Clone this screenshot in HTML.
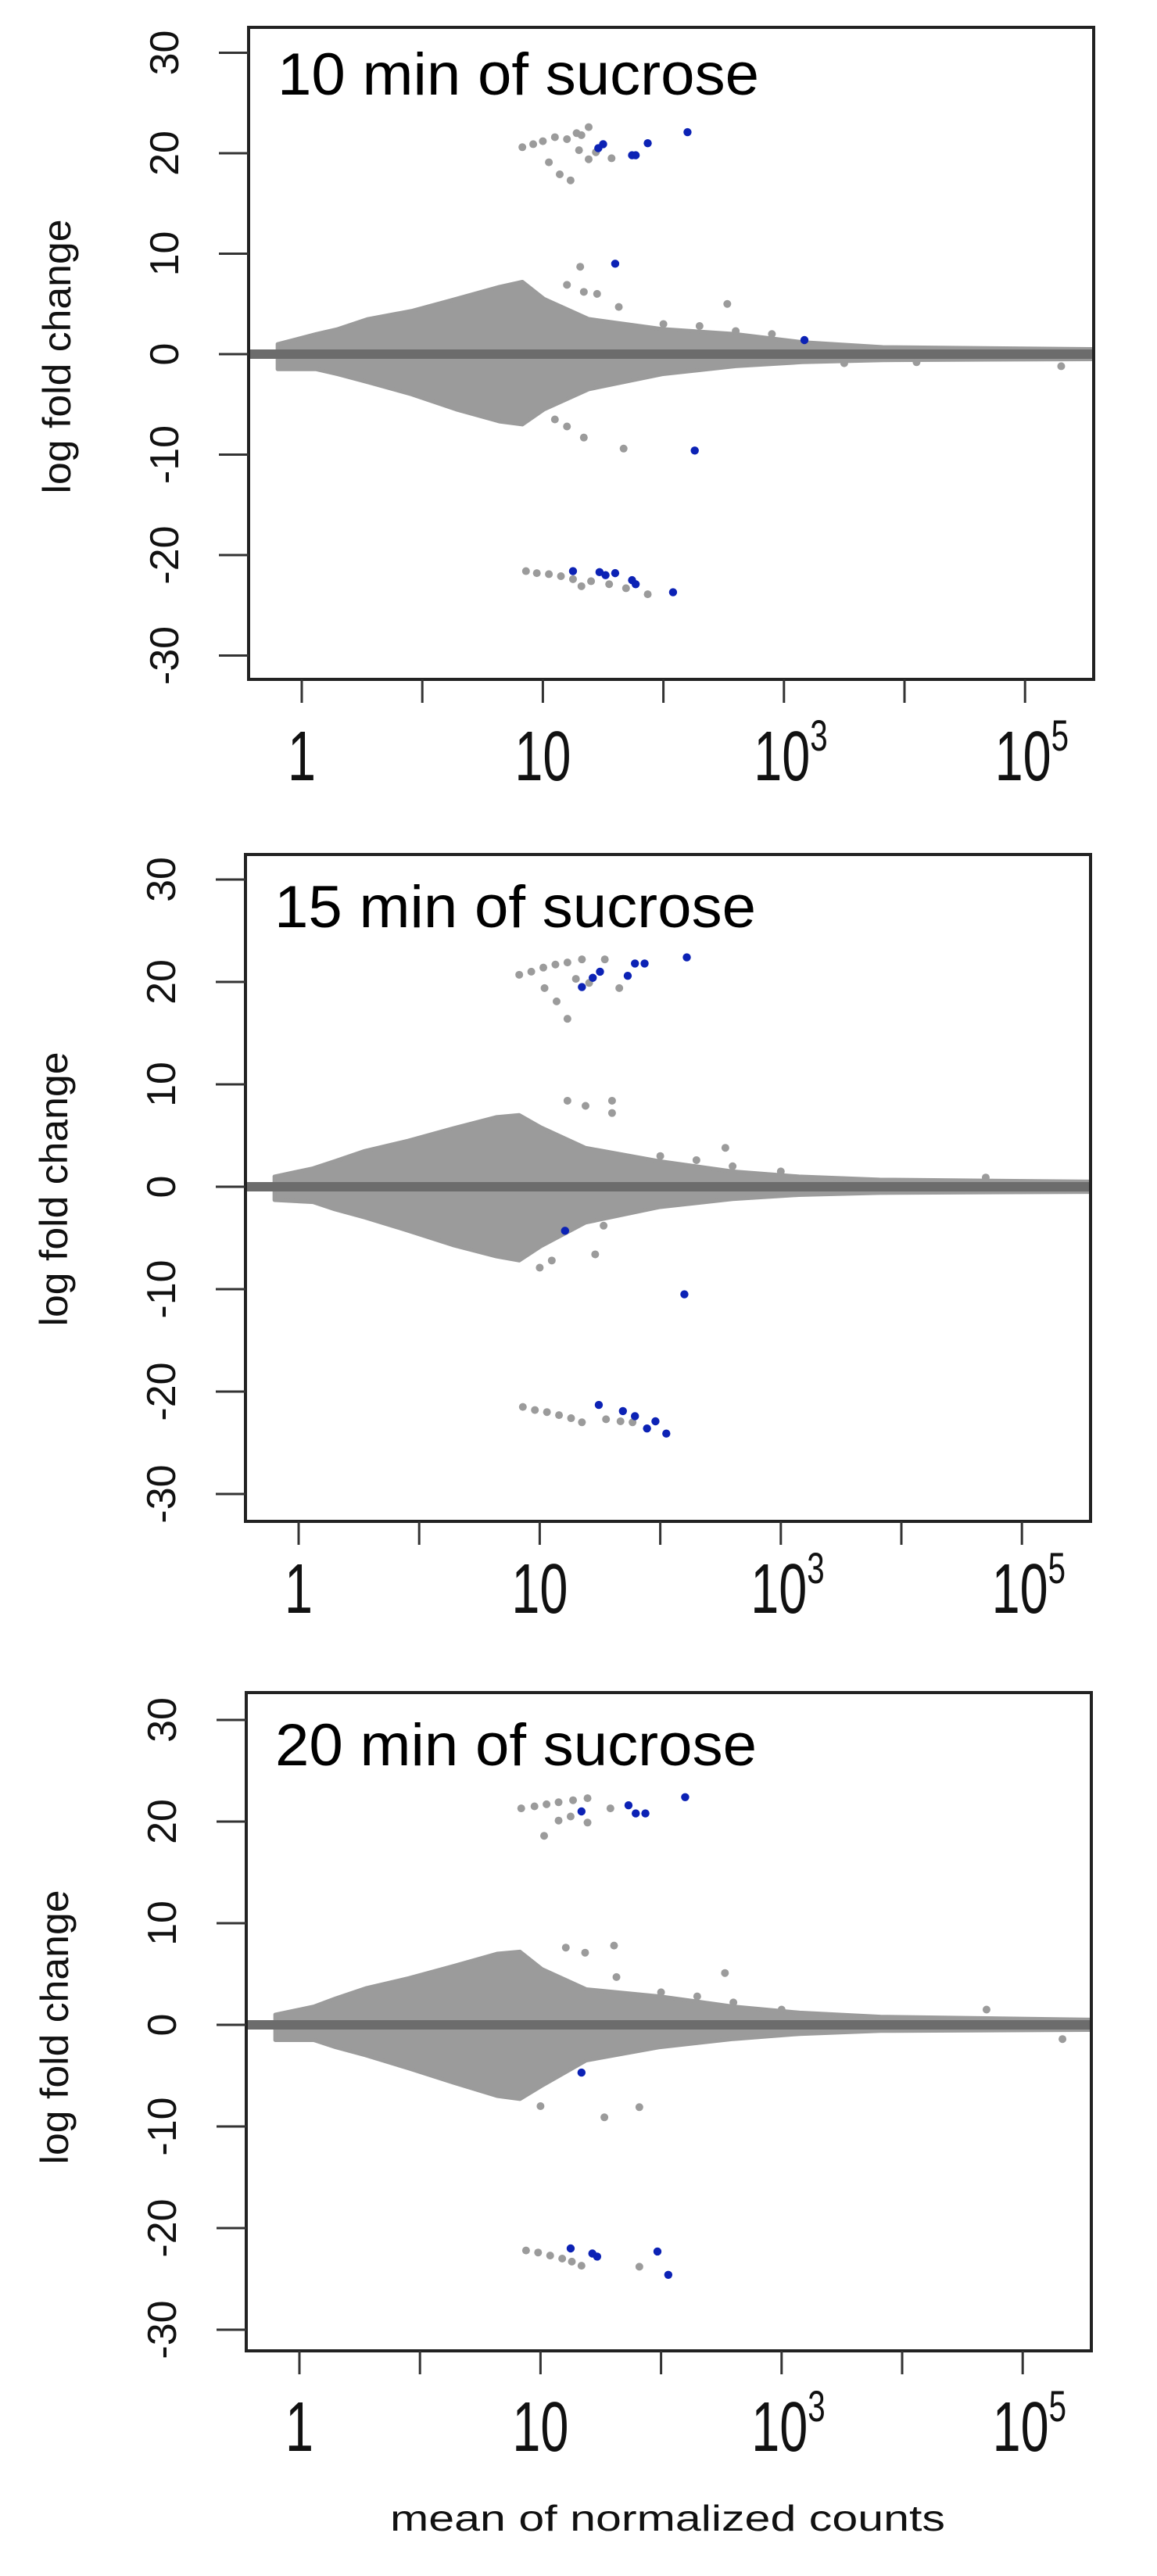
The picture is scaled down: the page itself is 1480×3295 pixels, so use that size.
<!DOCTYPE html>
<html><head><meta charset="utf-8"><title>MA plots</title>
<style>
html,body{margin:0;padding:0;background:#fff;}
svg{display:block;font-family:"Liberation Sans",Arial,sans-serif;}
</style></head>
<body>
<svg id="fig" width="1480" height="3295" viewBox="0 0 1480 3295" xmlns="http://www.w3.org/2000/svg"></svg>
<script>
// ---- data (x in axis tick units: tick 0 = "1", 2 = "10", 4 = "10^3", 6 = "10^5"; y = log fold change)
const titles = ["10 min of sucrose", "15 min of sucrose", "20 min of sucrose"];
const yTicks = [30, 20, 10, 0, -10, -20, -30];
const xTickLabels = ["1", "", "10", "", "10|3", "", "10|5"];
const envX = [-0.2, 0.12, 0.3, 0.55, 0.91, 1.28, 1.64, 1.83, 2.01, 2.38, 2.99, 3.6, 4.15, 4.82, 6.6];
const envUp1 = [1.0, 2.0, 2.5, 3.5, 4.3, 5.5, 6.7, 7.2, 5.5, 3.5, 2.5, 2.0, 1.2, 0.7, 0.5];
const envLo1 = [-1.5, -1.5, -2.0, -2.8, -4.0, -5.5, -6.7, -7.0, -5.5, -3.5, -2.0, -1.2, -0.8, -0.6, -0.5];
const envUp2 = [1.0, 1.8, 2.5, 3.5, 4.5, 5.7, 6.8, 7.0, 5.8, 3.8, 2.5, 1.5, 1.0, 0.7, 0.5];
const envLo2 = [-1.3, -1.5, -2.2, -3.0, -4.3, -5.7, -6.8, -7.2, -5.8, -3.5, -2.0, -1.2, -0.8, -0.6, -0.5];
const envUp3 = [1.0, 1.8, 2.6, 3.6, 4.6, 5.8, 7.0, 7.2, 5.5, 3.5, 2.8, 1.8, 1.2, 0.8, 0.5];
const envLo3 = [-1.5, -1.5, -2.2, -3.0, -4.3, -5.7, -7.0, -7.3, -6.0, -3.5, -2.2, -1.4, -0.9, -0.6, -0.5];
// gray outliers [x, y]
const gray1 = [[1.83,20.6],[1.92,20.9],[2.0,21.2],[2.1,21.6],[2.2,21.4],[2.28,22.0],[2.32,21.8],[2.38,22.6],[2.05,19.1],[2.14,17.9],[2.23,17.3],[2.38,19.4],[2.44,20.1],[2.57,19.5],[2.3,20.3],
  [1.86,-21.6],[1.95,-21.8],[2.05,-21.9],[2.15,-22.1],[2.25,-22.4],[2.32,-23.1],[2.4,-22.6],[2.55,-22.9],[2.69,-23.3],[2.87,-23.9],
  [2.31,8.7],[2.34,6.2],[2.63,4.7],[3.53,5.0],[2.67,-9.4],[2.34,-8.3],[2.46,-3.0],[6.3,-1.2],[2.2,6.9],[2.45,6.0],
  [3.0,3.0],[3.3,2.8],[3.6,2.3],[3.9,2.0],[2.1,-6.5],[2.2,-7.2],[4.5,-0.9],[5.1,-0.8]];
const gray2 = [[1.83,20.7],[1.93,21.0],[2.03,21.4],[2.13,21.7],[2.23,21.9],[2.35,22.2],[2.54,22.2],[2.04,19.4],[2.14,18.1],[2.23,16.4],[2.66,19.4],[2.41,19.9],[2.3,20.3],
  [1.86,-21.5],[1.96,-21.8],[2.06,-22.0],[2.16,-22.3],[2.26,-22.6],[2.35,-23.0],[2.55,-22.7],[2.67,-22.9],[2.77,-23.0],
  [2.23,8.4],[2.38,7.9],[2.6,8.4],[2.6,7.2],[3.54,3.8],[2.46,-6.6],[2.53,-3.8],[2.0,-7.9],[2.1,-7.2],
  [3.0,3.0],[3.3,2.6],[3.6,2.0],[4.0,1.5],[5.7,0.9]];
const gray3 = [[1.84,21.3],[1.95,21.5],[2.05,21.7],[2.15,21.9],[2.27,22.1],[2.39,22.3],[2.03,18.6],[2.15,20.1],[2.39,19.9],[2.58,21.3],[2.25,20.5],
  [1.88,-22.2],[1.98,-22.4],[2.08,-22.7],[2.18,-23.0],[2.26,-23.3],[2.34,-23.7],[2.82,-23.8],
  [2.21,7.6],[2.37,7.1],[2.61,7.8],[2.63,4.7],[3.53,5.1],[2.53,-9.1],[2.82,-8.1],[5.7,1.5],[6.33,-1.4],[2.0,-8.0],
  [3.0,3.2],[3.3,2.8],[3.6,2.2],[4.0,1.5]];
// significant (blue) points
const blue1 = [[2.5,20.9],[2.46,20.5],[2.74,19.8],[2.77,19.8],[2.87,21.0],[3.2,22.1],[2.6,9.0],[3.26,-9.6],[4.17,1.4],
  [2.25,-21.6],[2.47,-21.7],[2.52,-22.0],[2.6,-21.8],[2.74,-22.5],[2.77,-22.9],[3.08,-23.7]];
const blue2 = [[3.22,22.4],[2.87,21.8],[2.79,21.8],[2.73,20.6],[2.5,21.0],[2.44,20.4],[2.35,19.5],[2.21,-4.3],[3.2,-10.5],
  [2.49,-21.3],[2.69,-21.9],[2.79,-22.4],[2.89,-23.6],[2.96,-22.9],[3.05,-24.1]];
const blue3 = [[3.2,22.4],[2.34,21.0],[2.73,21.6],[2.79,20.8],[2.87,20.8],[2.34,-4.7],
  [2.25,-22.0],[2.43,-22.5],[2.47,-22.8],[2.97,-22.3],[3.06,-24.6]];

const panels = [
  {zero:453, unit:12.85, top:35, bottom:869, dx:0, env:[envUp1,envLo1], gray:gray1, blue:blue1, title:titles[0]},
  {zero:1518, unit:13.1, top:1093, bottom:1946, dx:-4, env:[envUp2,envLo2], gray:gray2, blue:blue2, title:titles[1]},
  {zero:2590, unit:13.0, top:2165, bottom:3007, dx:-3, env:[envUp3,envLo3], gray:gray3, blue:blue3, title:titles[2]}
];

const NS = "http://www.w3.org/2000/svg";
const svg = document.getElementById('fig');
function mk(tag, attrs, parent){
  const e = document.createElementNS(NS, tag);
  for (const k in attrs) e.setAttribute(k, attrs[k]);
  (parent||svg).appendChild(e);
  return e;
}

panels.forEach((p, pi) => {
  const L = 318 + p.dx, R = 1399 + p.dx;
  const xs = u => 386 + p.dx + 154.2 * u;
  const ys = v => p.zero - p.unit * v;
  const g = mk('g', {});
  
  
  const clip = mk('clipPath', {id:'clip'+pi}, g);
  mk('rect', {x:L, y:p.top, width:R-L, height:p.bottom-p.top}, clip);
  const plot = mk('g', {'clip-path':'url(#clip'+pi+')'}, g);
  
  

  let pts = [];
  envX.forEach((x,i) => pts.push(xs(x)+','+ys(p.env[0][i])));
  for (let i = envX.length-1; i >= 0; i--) pts.push(xs(envX[i])+','+ys(p.env[1][i]));
  const cloud = mk('polygon', {points:pts.join(' '), fill:'#9b9b9b', stroke:'#9b9b9b', 'stroke-width':5, 'stroke-linejoin':'round'}, plot);
  
  

  p.gray.forEach(d => {
    const c = mk('circle', {cx:xs(d[0]), cy:ys(d[1]), r:5, fill:'#9b9b9b'}, plot);
    
    
  });
  const zl = mk('line', {x1:L, x2:R, y1:ys(0), y2:ys(0), stroke:'#6c6c6c', 'stroke-width':12}, plot);
  
  
  p.blue.forEach(d => {
    const c = mk('circle', {cx:xs(d[0]), cy:ys(d[1]), r:5.2, fill:'#0c22b5'}, plot);
    
    
  });

  const box = mk('rect', {x:L, y:p.top, width:R-L, height:p.bottom-p.top, fill:'none', stroke:'#222', 'stroke-width':4}, g);
  
  

  yTicks.forEach(t => {
    const tl = mk('line', {x1:L-38, x2:L, y1:ys(t), y2:ys(t), stroke:'#333', 'stroke-width':3}, g);
    
    
    const tx = mk('text', {x:0, y:0, 'font-size':52, 'text-anchor':'middle', fill:'#111',
      transform:'translate('+(228+p.dx)+','+ys(t)+') rotate(-90)'}, g);
    tx.textContent = String(t);
    
    
  });
  xTickLabels.forEach((lab, i) => {
    const x = xs(i);
    const tl = mk('line', {x1:x, x2:x, y1:p.bottom, y2:p.bottom+30, stroke:'#333', 'stroke-width':3}, g);
    
    
    if (!lab) return;
    const parts = lab.split('|');
    const tg = mk('g', {transform:'translate('+x+','+(p.zero+545)+') scale(0.72,1)'}, g);
    const tx = mk('text', {x:parts[1]?12:0, y:0, 'font-size':90, 'text-anchor':'middle', fill:'#111'}, tg);
    
    
    tx.appendChild(document.createTextNode(parts[0]));
    if (parts[1]) {
      const sp = mk('tspan', {dy:-38, 'font-size':56}, tx);
      sp.textContent = parts[1];
    }
  });
  const tt = mk('text', {x:355+p.dx, y:p.zero-332, 'font-size':76, fill:'#000', textLength:616, lengthAdjust:'spacingAndGlyphs'}, g);
  tt.textContent = p.title;
  
  
  const yt = mk('text', {x:0, y:0, 'font-size':50, 'text-anchor':'middle', fill:'#111', textLength:351, lengthAdjust:'spacingAndGlyphs',
    transform:'translate('+(90+p.dx)+','+(p.zero+3)+') rotate(-90)'}, g);
  yt.textContent = 'log fold change';
  
  
});

const xt = mk('text', {x:854, y:3237, 'font-size':46, 'text-anchor':'middle', fill:'#111', textLength:710, lengthAdjust:'spacingAndGlyphs'});
xt.textContent = 'mean of normalized counts';


</script>
</body></html>
